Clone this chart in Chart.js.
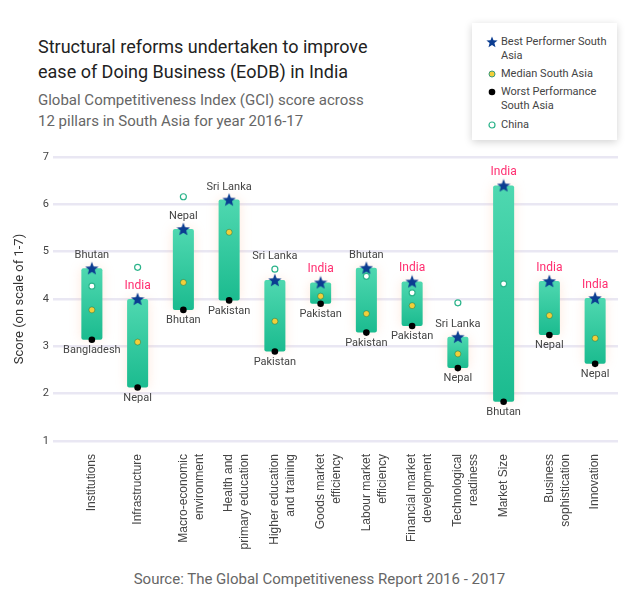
<!DOCTYPE html>
<html>
<head>
<meta charset="utf-8">
<script src="https://cdn.jsdelivr.net/npm/chart.js@4.4.1/dist/chart.umd.min.js"></script>
<style>
  body { margin:0; width:640px; height:610px; background:#fff; font-family:Roboto, "Noto Sans", sans-serif; position:relative; overflow:hidden; }
  #titulo { position:absolute; left:38px; top:34px; font-size:18px; line-height:25px; color:#222; }
  #subtitulo { position:absolute; left:38px; top:90px; font-size:15px; line-height:21px; color:#666; }
  #leyenda { position:absolute; left:472px; top:23px; width:145px; height:117px; background:#fff; box-shadow:0 2px 8px rgba(0,0,0,0.18); font-size:11px; line-height:14px; color:#444; }
  .item { position:absolute; left:29px; }
  .icono { position:absolute; left:-15px; top:1px; }
  #fuente { position:absolute; left:0; width:639px; top:570px; text-align:center; font-size:15px; color:#666; }
  #cont { position:absolute; left:0; top:140px; width:640px; height:421px; }
</style>
</head>
<body>
<div id="titulo">Structural reforms undertaken to improve<br>ease of Doing Business (EoDB) in India</div>
<div id="subtitulo">Global Competitiveness Index (GCI) score across<br>12 pillars in South Asia for year 2016-17</div>
<div id="leyenda">
  <div class="item" style="top:12px"><svg class="icono" width="12" height="12" viewBox="0 0 12 12"><polygon points="6,0.5 7.5,4.3 11.6,4.5 8.4,7.1 9.5,11.2 6,8.9 2.5,11.2 3.6,7.1 0.4,4.5 4.5,4.3" fill="#0b3d91"/></svg>Best Performer South<br>Asia</div>
  <div class="item" style="top:44px"><svg class="icono" width="12" height="12"><circle cx="6" cy="6" r="3" fill="#f2cf3a" stroke="#3a9a78" stroke-width="1"/></svg>Median South Asia</div>
  <div class="item" style="top:62px"><svg class="icono" width="12" height="12"><circle cx="6" cy="6" r="3.3" fill="#000"/></svg>Worst Performance<br>South Asia</div>
  <div class="item" style="top:95px"><svg class="icono" width="12" height="12"><circle cx="6" cy="6" r="3" fill="#fff" stroke="#2bb38a" stroke-width="1.2"/></svg>China</div>
</div>
<div id="cont"><canvas id="grafico"></canvas></div>
<div id="fuente">Source: The Global Competitiveness Report 2016 - 2017</div>

<script>
var pilares = [
  ['Institutions'], ['Infrastructure'], ['Macro-economic', 'environment'],
  ['Health and', 'primary education'], ['Higher education', 'and training'],
  ['Goods market', 'efficiency'], ['Labour market', 'efficiency'],
  ['Financial market', 'development'], ['Technological', 'readiness'],
  ['Market Size'], ['Business', 'sophistication'], ['Innovation']
]
var mejor = [4.65, 4.0, 5.48, 6.1, 4.4, 4.35, 4.66, 4.37, 3.2, 6.4, 4.38, 4.02]
var mediana = [3.77, 3.09, 4.35, 5.41, 3.53, 4.06, 3.69, 3.86, 2.84, null, 3.65, 3.17]
var peor = [3.14, 2.13, 3.77, 3.97, 2.89, 3.9, 3.29, 3.43, 2.54, 1.83, 3.24, 2.63]
var china = [4.27, 4.67, 6.16, null, 4.63, null, 4.48, 4.13, 3.92, 4.32, null, null]
var pais_mejor = ['Bhutan', 'India', 'Nepal', 'Sri Lanka', 'Sri Lanka', 'India', 'Bhutan', 'India', 'Sri Lanka', 'India', 'India', 'India']
var pais_peor = ['Bangladesh', 'Nepal', 'Bhutan', 'Pakistan', 'Pakistan', 'Pakistan', 'Pakistan', 'Pakistan', 'Nepal', 'Bhutan', 'Nepal', 'Nepal']

var rangos = []
for (var i = 0; i < pilares.length; i++) {
  rangos.push([peor[i], mejor[i]])
}

// estrella rellena para los puntos "best"
function crear_estrella(tam, color) {
  var c = document.createElement('canvas')
  c.width = tam; c.height = tam
  var g = c.getContext('2d')
  var cx = tam / 2, cy = tam / 2 + 0.6, r1 = tam / 2, r2 = tam / 4.6
  g.beginPath()
  for (var k = 0; k < 10; k++) {
    var r = (k % 2 == 0) ? r1 : r2
    var a = -Math.PI / 2 + k * Math.PI / 5
    g.lineTo(cx + r * Math.cos(a), cy + r * Math.sin(a))
  }
  g.closePath()
  g.fillStyle = color
  g.fill()
  return c
}
var estrella = crear_estrella(14, '#0b3d91')

function color_barra(context) {
  var chart = context.chart
  var raw = context.raw
  if (!chart.chartArea || !raw) return '#2cc797'
  var y = chart.scales.y
  var top = y.getPixelForValue(raw[1])
  var bottom = y.getPixelForValue(raw[0])
  var grad = chart.ctx.createLinearGradient(0, top, 0, bottom)
  grad.addColorStop(0, '#4fd8b0')
  grad.addColorStop(1, '#1bbb8f')
  return grad
}

var sombra = {
  id: 'sombra',
  beforeDatasetDraw: function (chart, args) {
    if (args.index == 0) {
      chart.ctx.save()
      chart.ctx.shadowColor = 'rgba(255,150,90,0.22)'
      chart.ctx.shadowBlur = 12
    }
  },
  afterDatasetDraw: function (chart, args) {
    if (args.index == 0) chart.ctx.restore()
  }
}

var etiquetas = {
  id: 'etiquetas',
  afterDatasetsDraw: function (chart) {
    var ctx = chart.ctx
    var x = chart.scales.x, y = chart.scales.y
    ctx.save()
    ctx.textAlign = 'center'
    for (var i = 0; i < pilares.length; i++) {
      var px = x.getPixelForValue(i)
      // si el punto de China queda justo encima de la estrella, la etiqueta va por encima de él
      var arriba = mejor[i]
      if (china[i] != null && china[i] > mejor[i] && china[i] - mejor[i] < 0.4) arriba = china[i]
      var esIndia = pais_mejor[i] == 'India'
      ctx.fillStyle = esIndia ? '#ff2d6f' : '#444'
      ctx.font = (esIndia ? '12px' : '11px') + ' Roboto'
      ctx.textBaseline = 'bottom'
      ctx.fillText(pais_mejor[i], px, y.getPixelForValue(arriba) - 7)
      ctx.fillStyle = '#444'
      ctx.font = '11px Roboto'
      ctx.textBaseline = 'top'
      ctx.fillText(pais_peor[i], px, y.getPixelForValue(peor[i]) + 5)
    }
    ctx.restore()
  }
}

new Chart(document.getElementById('grafico'), {
  type: 'bar',
  data: {
    labels: pilares,
    datasets: [
      {
        type: 'bar',
        data: rangos,
        backgroundColor: color_barra,
        borderRadius: 2,
        borderSkipped: false,
        barPercentage: 0.46,
        categoryPercentage: 1,
        order: 5
      },
      {
        type: 'line', label: 'China', data: china, showLine: false,
        pointRadius: 3, pointBackgroundColor: '#fff', pointBorderColor: '#2bb38a', pointBorderWidth: 1.2,
        order: 4
      },
      {
        type: 'line', label: 'Median South Asia', data: mediana, showLine: false,
        pointRadius: 3, pointBackgroundColor: '#f2cf3a', pointBorderColor: 'rgba(20,110,70,0.6)', pointBorderWidth: 0.8,
        order: 3
      },
      {
        type: 'line', label: 'Worst Performance South Asia', data: peor, showLine: false,
        pointRadius: 3.3, pointBackgroundColor: '#000', pointBorderColor: '#000', pointBorderWidth: 0,
        order: 2
      },
      {
        type: 'line', label: 'Best Performer South Asia', data: mejor, showLine: false,
        pointStyle: estrella, pointRadius: 7,
        order: 1
      }
    ]
  },
  options: {
    responsive: true,
    maintainAspectRatio: false,
    animation: false,
    layout: { padding: { top: 17, right: 22, left: 12, bottom: 0 } },
    plugins: {
      legend: { display: false },
      tooltip: { enabled: false }
    },
    scales: {
      x: {
        grid: { display: false },
        border: { display: false },
        ticks: {
          autoSkip: false, minRotation: 90, maxRotation: 90, padding: 5,
          color: '#444', font: { family: '"Liberation Sans", Arial', size: 12, lineHeight: 1.33 }
        },
        afterFit: function (scale) { scale.height = 120 }
      },
      y: {
        min: 1, max: 7,
        grid: { color: '#e9e7f3', lineWidth: 2.5, drawTicks: true, tickLength: 16 },
        border: { display: false },
        ticks: { stepSize: 1, padding: 4, color: '#444', font: { family: 'Roboto', size: 11 } },
        title: { display: true, text: 'Score (on scale of 1-7)', color: '#333', font: { family: 'Roboto', size: 13 }, padding: { top: 0, bottom: 4 } },
        afterFit: function (scale) { scale.width = 57 }
      }
    }
  },
  plugins: [sombra, etiquetas]
})
</script>
</body>
</html>
